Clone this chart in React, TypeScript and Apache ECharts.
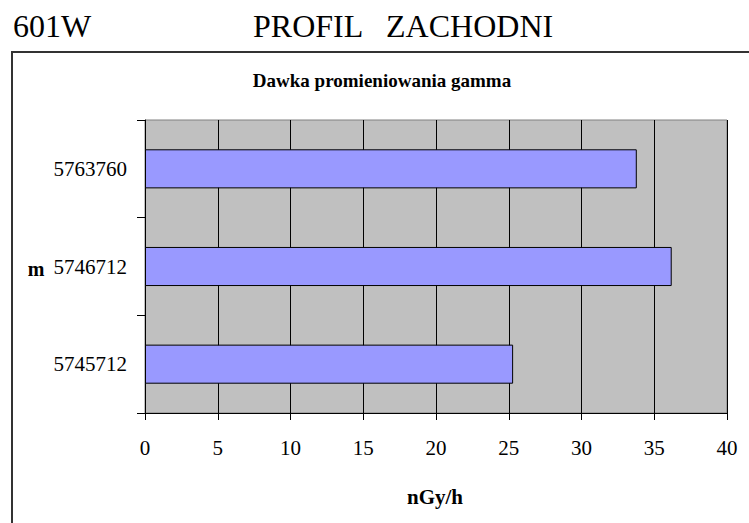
import React, { useEffect, useRef } from "react";
import * as echarts from "echarts";

const categories = ["5745712", "5746712", "5763760"];
const doseValues = [25.3, 36.2, 33.8];
const xTicks = { min: 0, max: 40, interval: 5 };

const FONT = "Liberation Serif";

export default function App() {
  const ref = useRef<HTMLDivElement>(null);
  useEffect(() => {
    document.body.style.margin = "0";
    const chart = echarts.init(ref.current!, null, { renderer: "svg" });
    chart.setOption({
      animation: false,
      backgroundColor: "#fff",
      graphic: [
        {
          type: "rect",
          shape: { x: 12, y: 52, width: 760, height: 500 },
          style: { fill: "none", stroke: "#333", lineWidth: 2 },
          z: 0,
        },
        {
          type: "text",
          x: 13,
          y: 10,
          style: { text: "601W", font: `32px ${FONT}`, fill: "#000", verticalAlign: "top" },
        },
        {
          type: "text",
          x: 253,
          y: 10,
          style: {
            text: "PROFIL   ZACHODNI",
            font: `32px ${FONT}`,
            fill: "#000",
            verticalAlign: "top",
          },
        },
        {
          type: "text",
          x: 382,
          y: 80,
          style: {
            text: "Dawka promieniowania gamma",
            font: `bold 19px ${FONT}`,
            fill: "#000",
            align: "center",
            verticalAlign: "middle",
          },
        },
        {
          type: "text",
          x: 36,
          y: 269,
          style: {
            text: "m",
            font: `bold 20px ${FONT}`,
            fill: "#000",
            align: "center",
            verticalAlign: "middle",
          },
        },
        {
          type: "text",
          x: 435,
          y: 497,
          style: {
            text: "nGy/h",
            font: `bold 21px ${FONT}`,
            fill: "#000",
            align: "center",
            verticalAlign: "middle",
          },
        },
      ],
      grid: {
        left: 145,
        right: 22,
        top: 120,
        bottom: 110,
        show: true,
        backgroundColor: "#C0C0C0",
        borderColor: "#808080",
        borderWidth: 1,
      },
      xAxis: {
        type: "value",
        min: xTicks.min,
        max: xTicks.max,
        interval: xTicks.interval,
        axisLine: { show: true, lineStyle: { color: "#000", width: 1 } },
        axisTick: { show: true, length: 7, lineStyle: { color: "#000" } },
        axisLabel: { fontFamily: FONT, fontSize: 21, color: "#000", margin: 24 },
        splitLine: { show: true, lineStyle: { color: "#000", width: 1 } },
      },
      yAxis: {
        type: "category",
        data: categories,
        axisLine: { show: true, lineStyle: { color: "#000", width: 1 } },
        axisTick: { show: true, length: 8, lineStyle: { color: "#000" } },
        axisLabel: { fontFamily: FONT, fontSize: 21, color: "#000", margin: 18 },
        splitLine: { show: false },
      },
      series: [
        {
          type: "bar",
          data: doseValues,
          barCategoryGap: "60%",
          itemStyle: { color: "#9999FF", borderColor: "#000", borderWidth: 1 },
        },
      ],
    });
    return () => chart.dispose();
  }, []);
  return (
    <div
      ref={ref}
      style={{ position: "absolute", left: 0, top: 0, width: 749, height: 523 }}
    />
  );
}
